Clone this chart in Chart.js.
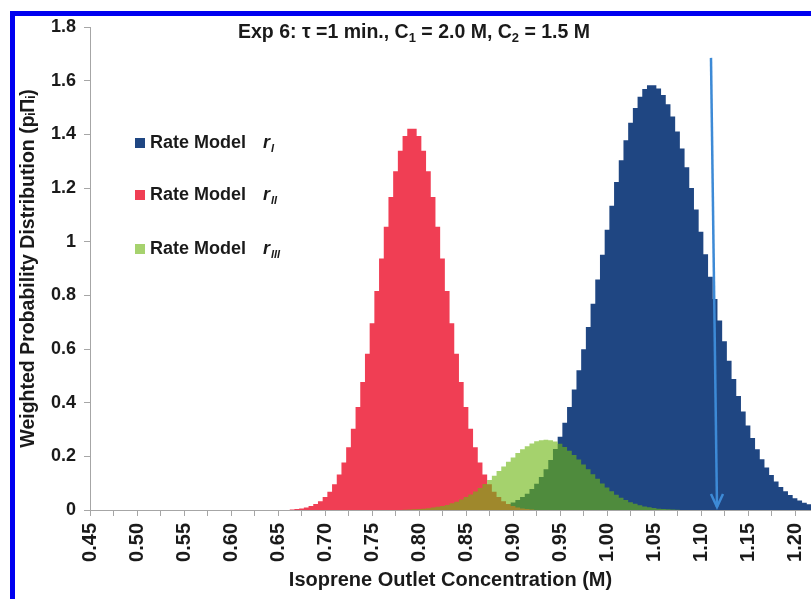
<!DOCTYPE html>
<html>
<head>
<meta charset="utf-8">
<script src="https://cdn.jsdelivr.net/npm/chart.js@4.4.0/dist/chart.umd.min.js"></script>
<style>
  html, body { margin: 0; padding: 0; background: #fff; }
  #wrap { position: relative; width: 811px; height: 599px; overflow: hidden; }
  #frame { position: absolute; left: 10px; top: 11px; width: 900px; height: 700px;
           border-left: 5px solid #0000f0; border-top: 5px solid #0000f0; }
  canvas { position: absolute; left: 0; top: 0; }
</style>
</head>
<body>
<div id="wrap">
  <div id="frame"></div>
  <canvas id="histChart" width="811" height="599"></canvas>
</div>
<script>
// histogram bins, 0.005 M wide
const binWidth = 0.005

const redStart = 0.665
const redValues = [
  0.002, 0.004, 0.006, 0.009, 0.015, 0.022, 0.033, 0.048, 0.068, 0.096, 0.132, 0.177, 0.234,
  0.303, 0.384, 0.477, 0.582, 0.696, 0.816, 0.937, 1.056, 1.166, 1.262, 1.339, 1.394, 1.421,
  1.421, 1.394, 1.339, 1.262, 1.166, 1.056, 0.937, 0.816, 0.696, 0.582, 0.477, 0.384, 0.303,
  0.234, 0.177, 0.132, 0.096, 0.068, 0.048, 0.033, 0.022, 0.015, 0.009, 0.006, 0.004, 0.002
]

const blueStart = 0.860
const blueValues = [
  0.002, 0.003, 0.005, 0.006, 0.009, 0.012, 0.016, 0.021, 0.028, 0.037, 0.048, 0.061, 0.078,
  0.098, 0.123, 0.152, 0.186, 0.227, 0.273, 0.325, 0.384, 0.449, 0.521, 0.599, 0.682, 0.769,
  0.859, 0.951, 1.044, 1.134, 1.222, 1.303, 1.378, 1.443, 1.498, 1.540, 1.569, 1.583,
  1.583, 1.571, 1.547, 1.512, 1.466, 1.411, 1.347, 1.277, 1.200, 1.120, 1.037, 0.953, 0.869,
  0.786, 0.706, 0.629, 0.556, 0.488, 0.425, 0.367, 0.315, 0.268, 0.226, 0.189, 0.158, 0.130,
  0.106, 0.086, 0.070, 0.056, 0.044, 0.035, 0.027, 0.021, 0.016, 0.012
]

const greenStart = 0.785
const greenValues = [
  0.001, 0.002, 0.0025, 0.0035, 0.005, 0.0065, 0.009, 0.012, 0.015, 0.019, 0.025, 0.031, 0.039,
  0.048, 0.058, 0.069, 0.082, 0.097, 0.112, 0.128, 0.145, 0.162, 0.180, 0.196, 0.212, 0.226,
  0.238, 0.248, 0.256, 0.260, 0.262,
  0.260, 0.255, 0.247, 0.235, 0.221, 0.205, 0.188, 0.170, 0.152, 0.133, 0.116, 0.099, 0.084,
  0.070, 0.057, 0.046, 0.037, 0.029, 0.023, 0.018, 0.013, 0.010, 0.007, 0.005, 0.004, 0.003,
  0.002, 0.001
]

const seriesNames = ['Rate Model', 'Rate Model', 'Rate Model']
const seriesSubs = ['I', 'II', 'III']

// arrow marking the measured outlet concentration
const arrowX = [1.1106, 1.117]
const arrowY = [1.685, 0.011]

const xMin = 0.45
const xMax = 1.217
const yMax = 1.8

const blueColor = 'rgb(31, 70, 130)'
const redColor = 'rgb(240, 62, 84)'
const greenFill = 'rgba(110, 182, 20, 0.62)'
const greenSolid = 'rgb(166, 210, 110)'
const fontFam = '"Liberation Sans", Arial, sans-serif'

function toPoints(start, values) {
  const pts = [{x: start - binWidth, y: 0}]
  values.forEach((v, i) => pts.push({x: start + i * binWidth, y: v}))
  pts.push({x: start + values.length * binWidth, y: 0})
  return pts
}

function histSet(label, start, values, color, order) {
  return {
    label: label,
    data: toPoints(start, values),
    stepped: 'middle',
    fill: 'origin',
    backgroundColor: color,
    borderWidth: 0,
    borderColor: 'rgba(0,0,0,0)',
    pointRadius: 0,
    order: order
  }
}

const titlePlugin = {
  id: 'titleText',
  afterDraw(chart) {
    const ctx = chart.ctx
    const parts = [
      ['Exp 6: \u03c4 =1 min., C', false], ['1', true],
      [' = 2.0 M, C', false], ['2', true], [' = 1.5 M', false]
    ]
    const big = 'bold 19.5px ' + fontFam
    const small = 'bold 13px ' + fontFam
    ctx.save()
    ctx.fillStyle = '#1a1a1a'
    ctx.textBaseline = 'alphabetic'
    let total = 0
    parts.forEach(p => { ctx.font = p[1] ? small : big; total += ctx.measureText(p[0]).width })
    let x = 414 - total / 2
    parts.forEach(p => {
      ctx.font = p[1] ? small : big
      ctx.fillText(p[0], x, p[1] ? 42 : 38)
      x += ctx.measureText(p[0]).width
    })
    ctx.restore()
  }
}

const legendPlugin = {
  id: 'sideLegend',
  afterDraw(chart) {
    const ctx = chart.ctx
    const rows = [143, 195, 249]
    const colors = [blueColor, redColor, greenSolid]
    ctx.save()
    ctx.textBaseline = 'middle'
    rows.forEach((y, i) => {
      ctx.fillStyle = colors[i]
      ctx.fillRect(135, y - 5, 10, 10)
      ctx.fillStyle = '#1a1a1a'
      ctx.font = 'bold 18px ' + fontFam
      ctx.fillText(seriesNames[i], 150, y)
      ctx.font = 'italic bold 18px ' + fontFam
      ctx.fillText('r', 263, y)
      ctx.font = 'italic bold 11px ' + fontFam
      ctx.fillText(seriesSubs[i], 271, y + 6)
    })
    ctx.restore()
  }
}

const arrowHead = {
  id: 'arrowHead',
  afterDatasetsDraw(chart) {
    const meta = chart.getDatasetMeta(3)
    const tip = meta.data[meta.data.length - 1]
    const ctx = chart.ctx
    ctx.save()
    ctx.strokeStyle = 'rgb(61, 138, 214)'
    ctx.lineWidth = 2.5
    ctx.beginPath()
    ctx.moveTo(tip.x - 6, tip.y - 13)
    ctx.lineTo(tip.x, tip.y)
    ctx.lineTo(tip.x + 6, tip.y - 13)
    ctx.stroke()
    ctx.restore()
  }
}

const canvas = document.querySelector('#histChart')
new Chart(canvas, {
  type: 'line',
  data: {
    datasets: [
      histSet('Rate Model rI', blueStart, blueValues, blueColor, 3),
      histSet('Rate Model rII', redStart, redValues, redColor, 2),
      histSet('Rate Model rIII', greenStart, greenValues, greenFill, 1),
      {
        label: 'arrow',
        data: arrowX.map((x, i) => ({x: x, y: arrowY[i]})),
        borderColor: 'rgb(61, 138, 214)',
        borderWidth: 2.5,
        pointRadius: 0,
        fill: false,
        order: 0
      }
    ]
  },
  options: {
    responsive: false,
    animation: false,
    layout: { padding: { top: 27, right: 0, bottom: 0, left: 0 } },
    plugins: {
      legend: { display: false },
      tooltip: { enabled: false }
    },
    scales: {
      x: {
        type: 'linear',
        min: xMin,
        max: xMax,
        afterFit: s => { s.height = 89; s.paddingRight = 0; s.paddingLeft = 0 },
        grid: { drawOnChartArea: false, tickLength: 6, tickColor: '#a6a6a6' },
        border: { color: '#a6a6a6' },
        ticks: {
          stepSize: 0.025,
          includeBounds: false,
          autoSkip: false,
          minRotation: 90,
          maxRotation: 90,
          padding: 7,
          color: '#1a1a1a',
          font: { family: fontFam, size: 20, weight: 'bold' },
          callback: v => (Math.round(v * 1000) % 50 === 0 ? v.toFixed(2) : '')
        },
        title: {
          display: true,
          text: 'Isoprene Outlet Concentration (M)',
          color: '#1a1a1a',
          font: { family: fontFam, size: 20, weight: 'bold' },
          padding: { top: 0, bottom: 7 }
        }
      },
      y: {
        min: 0,
        max: yMax,
        afterFit: s => { s.width = 90 },
        grid: { drawOnChartArea: false, tickLength: 6, tickColor: '#a6a6a6' },
        border: { color: '#a6a6a6' },
        ticks: {
          stepSize: 0.2,
          padding: 8,
          color: '#1a1a1a',
          font: { family: fontFam, size: 18, weight: 'bold' },
          callback: v => String(+v.toFixed(1))
        },
        title: {
          display: true,
          text: 'Weighted Probability Distribution (p\u1d62\u03a0\u1d62)',
          color: '#1a1a1a',
          font: { family: fontFam, size: 19.5, weight: 'bold' },
          padding: { top: 17, bottom: 0 }
        }
      }
    }
  },
  plugins: [titlePlugin, legendPlugin, arrowHead]
})
</script>
</body>
</html>
